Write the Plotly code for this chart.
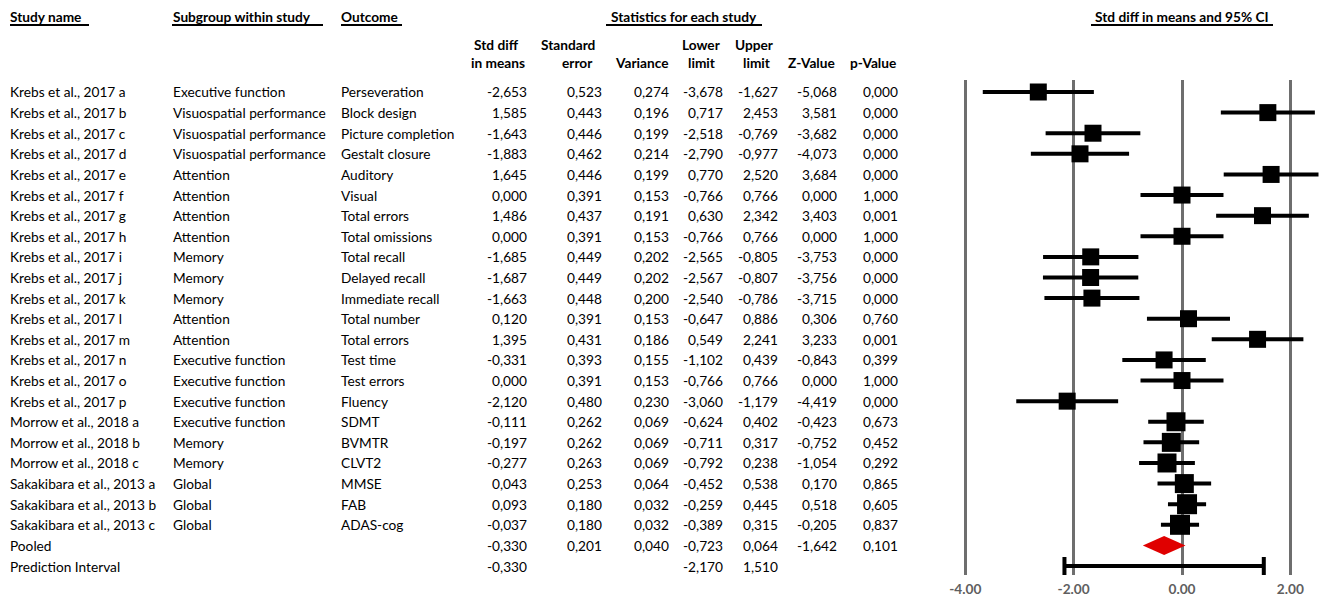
import plotly.graph_objects as go

# ---- study data ----
study_names = [
    "Krebs et al., 2017 a", "Krebs et al., 2017 b", "Krebs et al., 2017 c", "Krebs et al., 2017 d",
    "Krebs et al., 2017 e", "Krebs et al., 2017 f", "Krebs et al., 2017 g", "Krebs et al., 2017 h",
    "Krebs et al., 2017 i", "Krebs et al., 2017 j", "Krebs et al., 2017 k", "Krebs et al., 2017 l",
    "Krebs et al., 2017 m", "Krebs et al., 2017 n", "Krebs et al., 2017 o", "Krebs et al., 2017 p",
    "Morrow et al., 2018 a", "Morrow et al., 2018 b", "Morrow et al., 2018 c",
    "Sakakibara et al., 2013 a", "Sakakibara et al., 2013 b", "Sakakibara et al., 2013 c",
]
subgroups = [
    "Executive function", "Visuospatial performance", "Visuospatial performance", "Visuospatial performance",
    "Attention", "Attention", "Attention", "Attention",
    "Memory", "Memory", "Memory", "Attention",
    "Attention", "Executive function", "Executive function", "Executive function",
    "Executive function", "Memory", "Memory",
    "Global", "Global", "Global",
]
outcomes = [
    "Perseveration", "Block design", "Picture completion", "Gestalt closure",
    "Auditory", "Visual", "Total errors", "Total omissions",
    "Total recall", "Delayed recall", "Immediate recall", "Total number",
    "Total errors", "Test time", "Test errors", "Fluency",
    "SDMT", "BVMTR", "CLVT2",
    "MMSE", "FAB", "ADAS-cog",
]
std_diff = [-2.653, 1.585, -1.643, -1.883, 1.645, 0.000, 1.486, 0.000, -1.685, -1.687, -1.663,
            0.120, 1.395, -0.331, 0.000, -2.120, -0.111, -0.197, -0.277, 0.043, 0.093, -0.037]
std_err = [0.523, 0.443, 0.446, 0.462, 0.446, 0.391, 0.437, 0.391, 0.449, 0.449, 0.448,
           0.391, 0.431, 0.393, 0.391, 0.480, 0.262, 0.262, 0.263, 0.253, 0.180, 0.180]
variance = [0.274, 0.196, 0.199, 0.214, 0.199, 0.153, 0.191, 0.153, 0.202, 0.202, 0.200,
            0.153, 0.186, 0.155, 0.153, 0.230, 0.069, 0.069, 0.069, 0.064, 0.032, 0.032]
lower = [-3.678, 0.717, -2.518, -2.790, 0.770, -0.766, 0.630, -0.766, -2.565, -2.567, -2.540,
         -0.647, 0.549, -1.102, -0.766, -3.060, -0.624, -0.711, -0.792, -0.452, -0.259, -0.389]
upper = [-1.627, 2.453, -0.769, -0.977, 2.520, 0.766, 2.342, 0.766, -0.805, -0.807, -0.786,
         0.886, 2.241, 0.439, 0.766, -1.179, 0.402, 0.317, 0.238, 0.538, 0.445, 0.315]
z_value = [-5.068, 3.581, -3.682, -4.073, 3.684, 0.000, 3.403, 0.000, -3.753, -3.756, -3.715,
           0.306, 3.233, -0.843, 0.000, -4.419, -0.423, -0.752, -1.054, 0.170, 0.518, -0.205]
p_value = [0.000, 0.000, 0.000, 0.000, 0.000, 1.000, 0.001, 1.000, 0.000, 0.000, 0.000,
           0.760, 0.001, 0.399, 1.000, 0.000, 0.673, 0.452, 0.292, 0.865, 0.605, 0.837]

# pooled estimate and prediction interval
pooled = dict(est=-0.330, se=0.201, var=0.040, lo=-0.723, hi=0.064, z=-1.642, p=0.101)
pred_interval = dict(est=-0.330, lo=-2.170, hi=1.510)

axis_ticks = [-4, -2, 0, 2]
axis_ticktext = ["-4.00", "-2.00", "0.00", "2.00"]

# ---- geometry (pixel layout of a 1319 x 600 page) ----
W, H = 1319, 600
ROW0_PX, ROW_STEP = 92.0, 20.61
def row_of_px(py):
    return 1 + (py - ROW0_PX) / ROW_STEP

X_LEFT_PX, X_ZERO_PX, PX_PER_UNIT = 940.0, 1182.0, 54.1667
x_range = [(X_LEFT_PX - X_ZERO_PX) / PX_PER_UNIT, (W - X_ZERO_PX) / PX_PER_UNIT]
GRID_TOP_PX, GRID_BOT_PX = 80.0, 575.0

FONT = "Lato, 'Open Sans', sans-serif"
FS = 13.7

def fmt(v):
    return f"{v:.3f}".replace(".", ",")

n = len(study_names)
rows = list(range(1, n + 1))
pooled_row = n + 1
pi_row = n + 2

fig = go.Figure()

# study squares with 95% CI whiskers
marker_sizes = [17] * 16 + [19] * 3 + [19, 20, 20]
fig.add_trace(go.Scatter(
    x=std_diff, y=rows, mode="markers",
    marker=dict(symbol="square", size=marker_sizes, color="black", opacity=1,
                line=dict(width=0)),
    error_x=dict(type="data", symmetric=False,
                 array=[u - e for u, e in zip(upper, std_diff)],
                 arrayminus=[e - l for e, l in zip(std_diff, lower)],
                 color="black", thickness=4, width=0),
    hoverinfo="skip", showlegend=False,
))

# pooled diamond
half_h = 9.5 / ROW_STEP
fig.add_trace(go.Scatter(
    x=[pooled["lo"], pooled["est"], pooled["hi"], pooled["est"], pooled["lo"]],
    y=[pooled_row, pooled_row - half_h, pooled_row, pooled_row + half_h, pooled_row],
    mode="lines", fill="toself", fillcolor="#e00000", line=dict(width=0, color="#e00000"),
    hoverinfo="skip", showlegend=False,
))

# prediction interval with end caps
fig.add_trace(go.Scatter(
    x=[pred_interval["est"]], y=[pi_row], mode="markers",
    marker=dict(size=1, opacity=0),
    error_x=dict(type="data", symmetric=False,
                 array=[pred_interval["hi"] - pred_interval["est"]],
                 arrayminus=[pred_interval["est"] - pred_interval["lo"]],
                 color="black", thickness=4, width=9),
    hoverinfo="skip", showlegend=False,
))

annotations = []

def add_text(text, x_px, y, anchor="left", yref="y", bold=False, color="black", size=FS):
    # annotations carry a small internal pad; compensate so the text edge sits at x_px
    shift = {"left": -2, "right": 2, "center": 0}[anchor]
    annotations.append(dict(
        text=f"<b>{text}</b>" if bold else text,
        x=(x_px + shift) / W, xref="paper", y=y, yref=yref,
        xanchor=anchor, yanchor="middle", showarrow=False,
        font=dict(family=FONT, size=size, color=color),
    ))

def paper_y(py):
    return 1 - py / H

# column headers
add_text("Study name", 10, paper_y(17), yref="paper", bold=True)
add_text("Subgroup within study", 173, paper_y(17), yref="paper", bold=True)
add_text("Outcome", 341, paper_y(17), yref="paper", bold=True)
add_text("Statistics for each study", 684, paper_y(17), anchor="center", yref="paper", bold=True)
add_text("Std diff in means and 95% CI", 1182, paper_y(17), anchor="center", yref="paper", bold=True)

header_lines = [
    ("Std diff", 497, 45), ("in means", 498, 63),
    ("Standard", 568, 45), ("error", 577, 63),
    ("Variance", 641, 63),
    ("Lower", 701, 45), ("limit", 702, 63),
    ("Upper", 754, 45), ("limit", 757, 63),
    ("Z-Value", 811, 63),
    ("p-Value", 873, 63),
]
for txt, cx, cy in header_lines:
    add_text(txt, cx, paper_y(cy), anchor="center", yref="paper", bold=True)

# header underlines
shapes = []
for x0, x1 in [(10, 89), (172, 323), (341, 402), (606, 762), (1091, 1273)]:
    shapes.append(dict(type="line", xref="paper", yref="paper",
                       x0=x0 / W, x1=x1 / W, y0=paper_y(25), y1=paper_y(25),
                       line=dict(color="black", width=2)))

# table body
num_cols_right = [527, 602, 669, 723, 778, 837, 898]
for i in range(n):
    r = rows[i]
    add_text(study_names[i], 10, r)
    add_text(subgroups[i], 173, r)
    add_text(outcomes[i], 341, r)
    vals = [std_diff[i], std_err[i], variance[i], lower[i], upper[i], z_value[i], p_value[i]]
    for v, xr in zip(vals, num_cols_right):
        add_text(fmt(v), xr, r, anchor="right")

add_text("Pooled", 10, pooled_row)
for v, xr in zip([pooled["est"], pooled["se"], pooled["var"], pooled["lo"], pooled["hi"],
                  pooled["z"], pooled["p"]], num_cols_right):
    add_text(fmt(v), xr, pooled_row, anchor="right")

add_text("Prediction Interval", 10, pi_row)
for v, xr in zip([pred_interval["est"], pred_interval["lo"], pred_interval["hi"]],
                 [num_cols_right[0], num_cols_right[3], num_cols_right[4]]):
    add_text(fmt(v), xr, pi_row, anchor="right")

fig.update_layout(
    width=W, height=H,
    margin=dict(l=0, r=0, t=0, b=0),
    paper_bgcolor="white", plot_bgcolor="white",
    annotations=annotations, shapes=shapes,
    xaxis=dict(domain=[X_LEFT_PX / W, 1], range=x_range,
               tickvals=axis_ticks, ticktext=axis_ticktext,
               showgrid=True, gridcolor="#6e6e6e", gridwidth=3,
               zeroline=False, showline=False, ticks="",
               ticklabelstandoff=4,
               tickfont=dict(family=FONT, size=FS, color="#5f5f5f", weight="bold"),
               fixedrange=True),
    yaxis=dict(domain=[1 - GRID_BOT_PX / H, 1 - GRID_TOP_PX / H],
               range=[row_of_px(GRID_BOT_PX), row_of_px(GRID_TOP_PX)],
               showgrid=False, zeroline=False, showline=False,
               showticklabels=False, ticks="", fixedrange=True),
    showlegend=False,
)

fig.write_html("out.html")
